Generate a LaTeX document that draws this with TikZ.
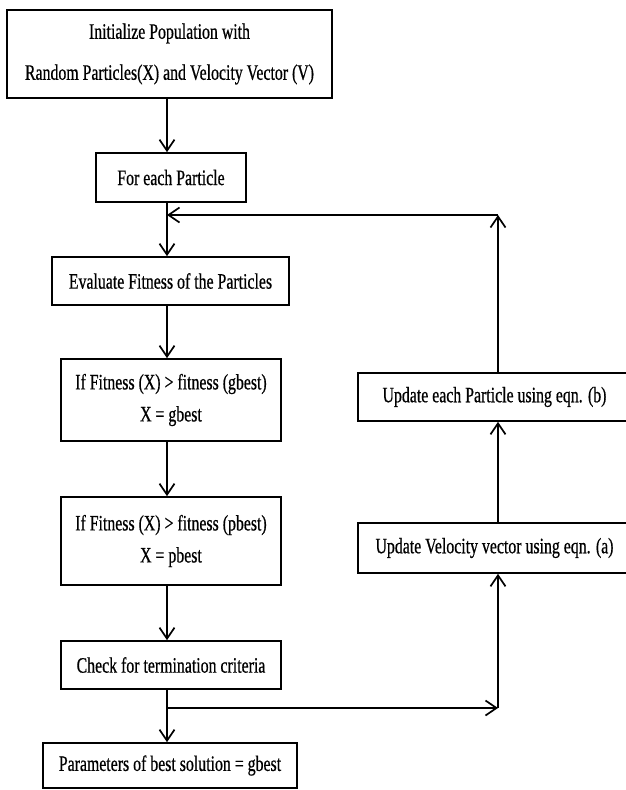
\documentclass[tikz,border=0pt]{standalone}
\usepackage{fontspec}
\setmainfont[FakeStretch=0.72,FakeBold=0.6]{Liberation Serif}
\usetikzlibrary{arrows.meta}
\begin{document}
\begin{tikzpicture}[x=1pt,y=-1pt,
 box/.style={draw, line width=1.7pt, inner sep=0pt, align=center, font=\fontsize{22}{26}\selectfont},
 arr/.style={line width=1.7pt, -{Straight Barb[length=11pt,width=15pt,line width=1.7pt]}},
 ln/.style={line width=1.7pt}]
\useasboundingbox (0,0) rectangle (626,790);
\clip (0,0) rectangle (626,790);
\node[box, minimum width=325pt, minimum height=88pt] (init) at (169.5,54) {\rule{0pt}{10pt}Initialize Population with\\[15pt]Random Particles(X) and Velocity Vector (V)};
\node[box, minimum width=150pt, minimum height=49pt] (each) at (171,177.5) {For each Particle};
\node[box, minimum width=237pt, minimum height=48pt] (eval) at (170.5,281) {Evaluate Fitness of the Particles};
\node[box, minimum width=220pt, minimum height=82pt] (gb) at (171,400) {If Fitness (X) > fitness (gbest)\\[6pt]X = gbest};
\node[box, minimum width=220pt, minimum height=88pt] (pb) at (171,541) {If Fitness (X) > fitness (pbest)\\[6pt]X = pbest};
\node[box, minimum width=220pt, minimum height=48pt] (check) at (171,665) {Check for termination criteria};
\node[box, minimum width=254pt, minimum height=45pt] (params) at (170,765.5) {Parameters of best solution = gbest};
\node[box, minimum width=273pt, minimum height=48pt] (upd) at (494.5,397) {Update each Particle using eqn. (b)};
\node[box, minimum width=273pt, minimum height=50pt] (vel) at (494.5,548) {Update Velocity vector using eqn. (a)};
\coordinate (col) at (167,0);
\coordinate (rc) at (498,0);
\coordinate (jtop) at (498,215);
\coordinate (jleft) at (167,215);
\coordinate (jbot) at (167,708);
\coordinate (jright) at (498,708);
\draw[arr] (init.south -| col) -- (each.north -| col);
\draw[arr] (each.south -| col) -- (eval.north -| col);
\draw[arr] (eval.south -| col) -- (gb.north -| col);
\draw[arr] (gb.south -| col) -- (pb.north -| col);
\draw[arr] (pb.south -| col) -- (check.north -| col);
\draw[arr] (check.south -| col) -- (params.north -| col);
\draw[arr] (jbot) -- (jright);
\draw[arr] (jright) -- (vel.south -| rc);
\draw[arr] (vel.north -| rc) -- (upd.south -| rc);
\draw[arr] (upd.north -| rc) -- (jtop);
\draw[arr] (jtop) -- (jleft);
\end{tikzpicture}
\end{document}
